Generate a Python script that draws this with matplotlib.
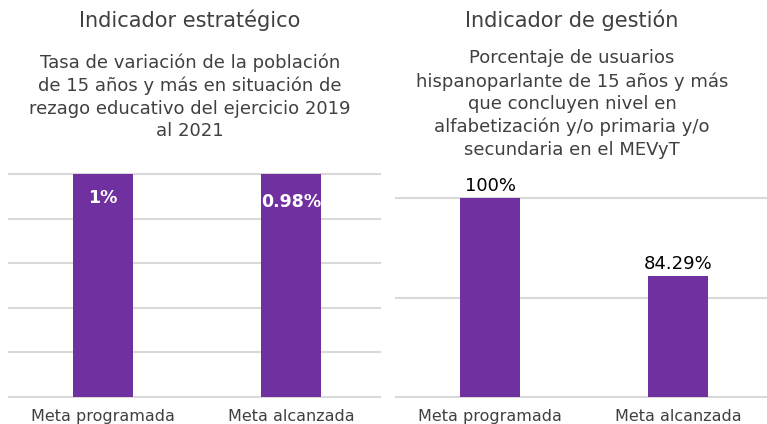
import matplotlib
matplotlib.use("Agg")
import matplotlib.pyplot as plt
import matplotlib.transforms as mtransforms

plt.rcParams['font.family'] = ['DejaVu Sans']

categories = ["Meta programada", "Meta alcanzada"]
left_values = [1.0, 0.98]
left_labels = ["1%", "0.98%"]
right_values = [100.0, 84.29]
right_labels = ["100%", "84.29%"]

left_title = "Indicador estratégico"
left_sub = ("Tasa de variación de la población\nde 15 años y más en situación de\n"
            "rezago educativo del ejercicio 2019\nal 2021")
right_title = "Indicador de gestión"
right_sub = ("Porcentaje de usuarios\nhispanoparlante de 15 años y más\nque concluyen nivel en\n"
             "alfabetización y/o primaria y/o\nsecundaria en el MEVyT")

W, H = 767, 424
fig = plt.figure(figsize=(W / 100, H / 100), dpi=100)
BAR = "#7030A0"
GRID = "#D9D9D9"
TXT = "#404040"

def px_axes(x0, x1, ytop, ybot):
    return fig.add_axes([x0 / W, (H - ybot) / H, (x1 - x0) / W, (ybot - ytop) / H])

def style(ax, ymin, ymax, step):
    ax.set_ylim(ymin, ymax)
    ax.set_yticks([ymin + i * step for i in range(int(round((ymax - ymin) / step)) + 1)])
    ax.yaxis.grid(True, color=GRID, linewidth=1.5)
    ax.set_axisbelow(True)
    for gl in ax.get_ygridlines():
        gl.set_clip_on(False)
    for s in ax.spines.values():
        s.set_visible(False)
    ax.tick_params(axis='y', left=False, labelleft=False)
    ax.tick_params(axis='x', bottom=False, labelsize=11.5, labelcolor=TXT, pad=5)
    ax.set_xticks(range(len(categories)))
    ax.set_xticklabels(categories)
    ax.set_facecolor('none')

# Left panel
axL = px_axes(9, 380, 174, 397)
axL.bar(range(len(categories)), left_values, width=0.32, color=BAR)
style(axL, 0, 0.5, 0.1)
axL.set_xlim(-0.5, 1.473)
tr = mtransforms.blended_transform_factory(axL.transData, axL.transAxes)
for i, (lab, yf) in enumerate(zip(left_labels, [0.892, 0.874])):
    axL.text(i, yf, lab, transform=tr, ha='center', va='center', color='white',
             fontsize=12.5, fontweight='bold')

# Right panel
axR = px_axes(396, 767, 198, 397)
axR.bar(range(len(categories)), right_values, width=0.32, color=BAR)
style(axR, 60, 100, 20)
axR.set_xlim(-0.5, 1.473)
for i, (v, lab) in enumerate(zip(right_values, right_labels)):
    axR.annotate(lab, (i, v), xytext=(0, 2), textcoords='offset points', ha='center',
                 va='bottom', fontsize=13, color='black', annotation_clip=False)

# Titles
fig.text(190 / W, 1 - 20 / H, left_title, ha='center', va='center', fontsize=15, color=TXT)
fig.text(190 / W, 1 - 97 / H, left_sub, ha='center', va='center', fontsize=13, color=TXT,
         linespacing=1.32)
fig.text(572 / W, 1 - 104 / H, right_sub, ha='center', va='center', fontsize=13, color=TXT,
         linespacing=1.32)
fig.text(572 / W, 1 - 20 / H, right_title, ha='center', va='center', fontsize=15, color=TXT)

fig.savefig("out.png", dpi=100)
